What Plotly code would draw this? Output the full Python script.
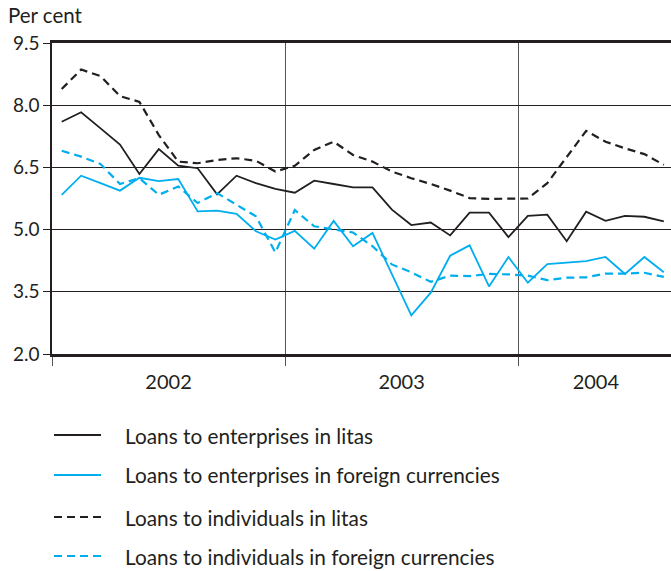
import plotly.graph_objects as go

# Monthly data Jan 2002 .. Aug 2004 (32 months)
months = list(range(32))
ent_litas = [7.60, 7.83, 7.44, 7.05, 6.34, 6.94, 6.54, 6.48, 5.85, 6.30, 6.12, 5.98,
             5.89, 6.18, 6.10, 6.02, 6.02, 5.48, 5.11, 5.17, 4.86, 5.41, 5.41, 4.82,
             5.33, 5.36, 4.72, 5.43, 5.21, 5.33, 5.31, 5.20]
ent_fx = [5.84, 6.30, 6.12, 5.94, 6.25, 6.17, 6.22, 5.44, 5.46, 5.38, 4.96, 4.76,
          4.97, 4.54, 5.21, 4.60, 4.92, 3.93, 2.93, 3.48, 4.37, 4.62, 3.63, 4.34,
          3.72, 4.17, 4.21, 4.24, 4.34, 3.93, 4.34, 3.97]
ind_litas = [8.39, 8.86, 8.70, 8.22, 8.08, 7.28, 6.64, 6.60, 6.68, 6.72, 6.66, 6.40,
             6.54, 6.92, 7.12, 6.80, 6.64, 6.40, 6.24, 6.10, 5.94, 5.76, 5.74, 5.74,
             5.75, 6.12, 6.76, 7.38, 7.12, 6.96, 6.82, 6.56]
ind_fx = [6.90, 6.76, 6.58, 6.10, 6.24, 5.84, 6.04, 5.64, 5.88, 5.60, 5.32, 4.45,
          5.47, 5.08, 5.00, 4.93, 4.60, 4.16, 3.97, 3.74, 3.89, 3.88, 3.93, 3.92,
          3.89, 3.78, 3.84, 3.85, 3.94, 3.94, 3.96, 3.86]

year_labels = ["2002", "2003", "2004"]
year_centers = [5.5, 17.5, 27.5]
year_bounds = [-0.5, 11.5, 23.5]
y_ticks = [2.0, 3.5, 5.0, 6.5, 8.0, 9.5]

series_names = ["Loans to enterprises in litas",
                "Loans to enterprises in foreign currencies",
                "Loans to individuals in litas",
                "Loans to individuals in foreign currencies"]

BLACK = "#231f20"
BLUE = "#00aeef"
styles = [(BLACK, "solid", 1.8), (BLUE, "solid", 1.8),
          (BLACK, "8px,5px", 2.2), (BLUE, "8px,5px", 2.2)]
FONT = "Lato"

W, H = 671, 571
L, T, B, R = 52, 43, 217, 0
PW, PH = W - L - R, H - T - B

fig = go.Figure()
for name, vals, (col, dash, lw) in zip(series_names, [ent_litas, ent_fx, ind_litas, ind_fx], styles):
    fig.add_trace(go.Scatter(x=months, y=vals, mode="lines", name=name,
                             line=dict(color=col, dash=dash, width=lw),
                             showlegend=False))

def px_x(px):
    return (px - L) / PW

def px_y(py):
    return (H - B - py) / PH

# manual legend
rows_y = [435, 475, 517, 556]
for name, (col, dash, lw), ry in zip(series_names, styles, rows_y):
    fig.add_shape(type="line", xref="paper", yref="paper",
                  x0=px_x(54), x1=px_x(101), y0=px_y(ry), y1=px_y(ry),
                  line=dict(color=col, width=2.2 if dash != "solid" else 2, dash=dash))
    fig.add_annotation(xref="paper", yref="paper", x=px_x(123), y=px_y(ry),
                       text=name, showarrow=False, xanchor="left", yanchor="middle",
                       font=dict(family=FONT, size=20.8, color=BLACK))

fig.add_annotation(xref="paper", yref="paper", x=px_x(6), y=px_y(15),
                   text="Per cent", showarrow=False, xanchor="left", yanchor="middle",
                   font=dict(family=FONT, size=20.5, color=BLACK))

fig.update_layout(
    width=W, height=H,
    margin=dict(l=L, r=R, t=T, b=B),
    paper_bgcolor="white", plot_bgcolor="white",
    font=dict(family=FONT, size=20, color=BLACK),
    showlegend=False,
    xaxis=dict(range=[-0.5, 31.37], tickmode="array", tickvals=year_centers,
               ticktext=year_labels, ticks="", showgrid=False,
               showline=True, linecolor=BLACK, linewidth=2.5, mirror=True,
               zeroline=False, tickfont=dict(size=20, color=BLACK),
               ticklabelstandoff=8,
               minor=dict(tickmode="array", tickvals=year_bounds, ticks="outside",
                          ticklen=9, tickcolor="#555555", tickwidth=1,
                          showgrid=True, gridcolor="#555555", gridwidth=1)),
    yaxis=dict(range=[2.0, 9.5], tickmode="array", tickvals=y_ticks,
               tickformat=".1f", ticks="outside", ticklen=7, tickcolor=BLACK,
               tickwidth=1.2, showgrid=True, gridcolor=BLACK, gridwidth=1.2,
               showline=True, linecolor=BLACK, linewidth=1.5, zeroline=False,
               tickfont=dict(size=19, color=BLACK), ticklabelstandoff=0),
)

fig.write_html("out.html", config={"displayModeBar": False},
               post_script="document.body.style.margin='0';document.body.style.overflow='hidden';")
